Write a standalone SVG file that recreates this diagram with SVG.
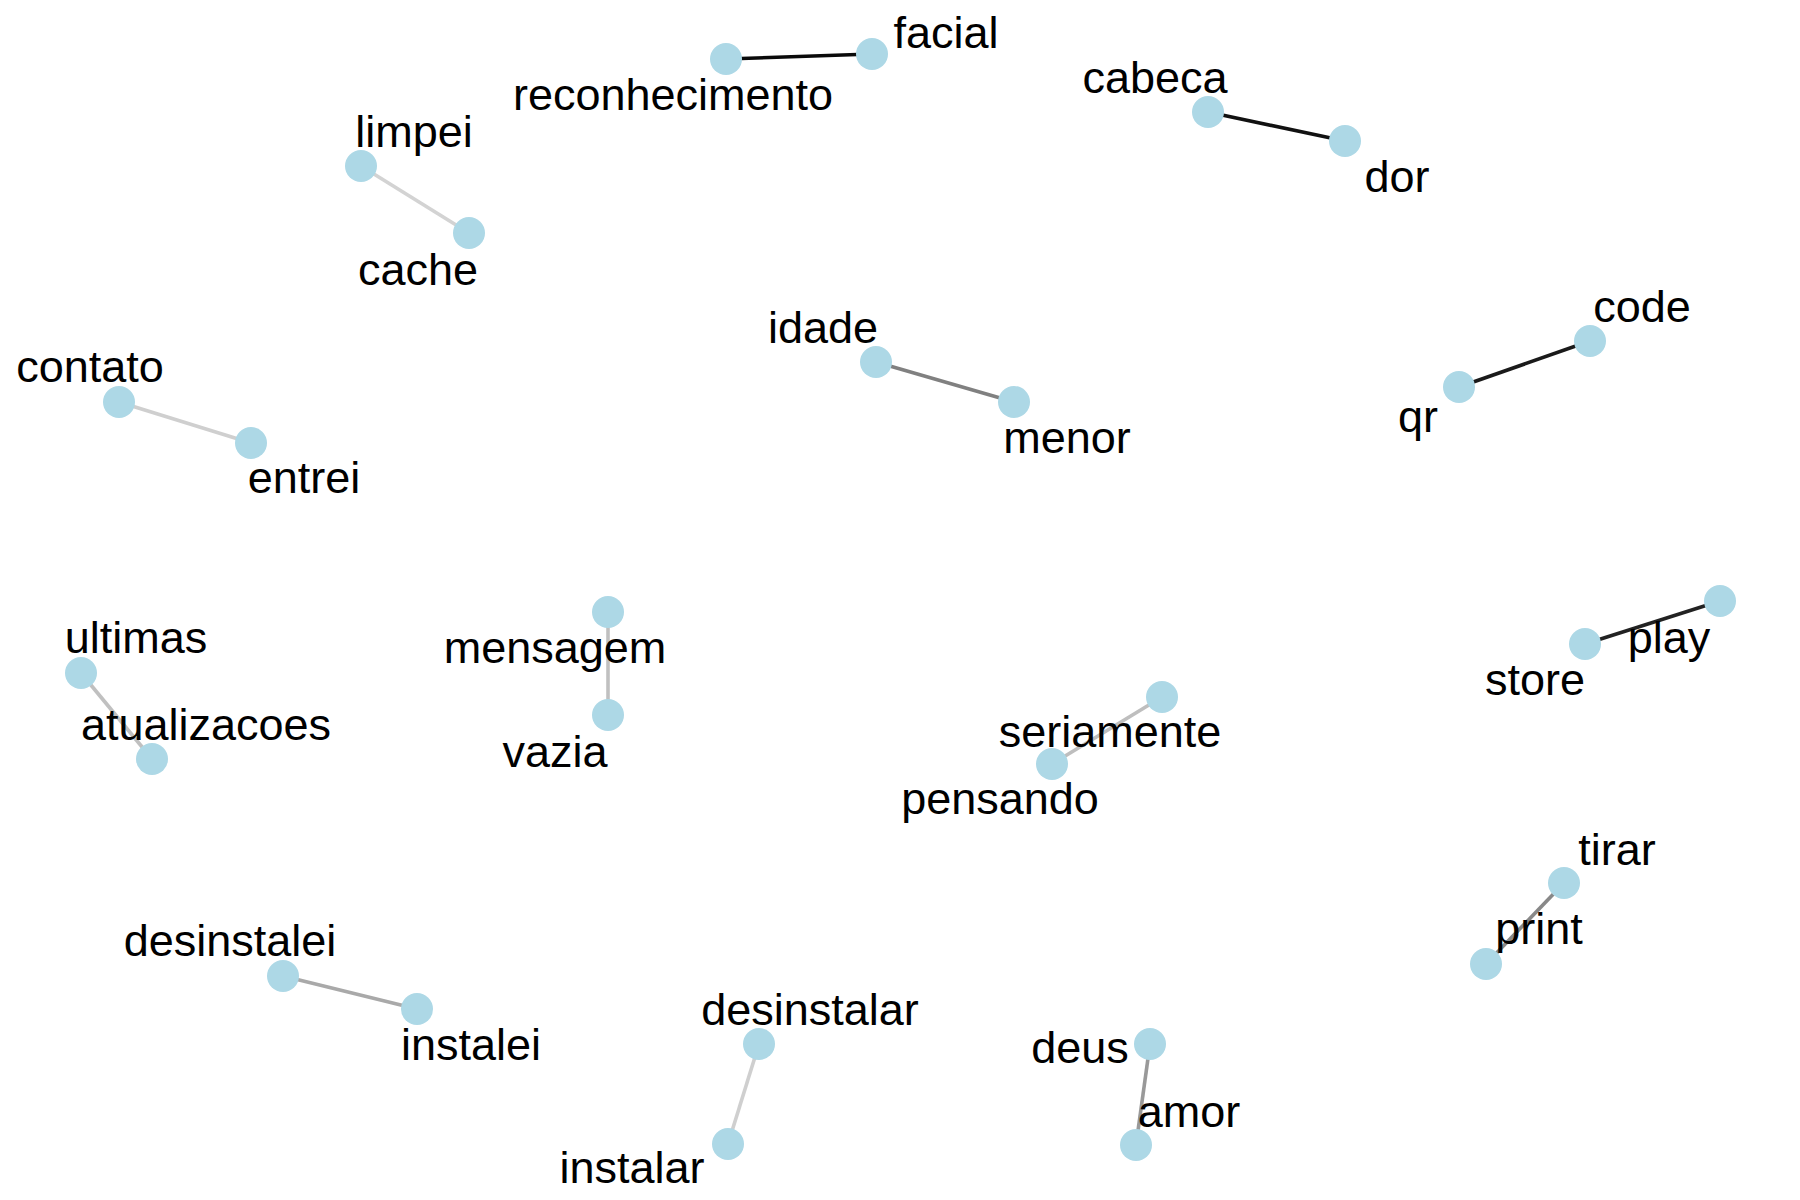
<svg xmlns="http://www.w3.org/2000/svg" width="1800" height="1200" viewBox="0 0 1800 1200">
<style>
.n{fill:#add8e6}
.t{font-family:"Liberation Sans",Arial,sans-serif;font-size:45px;fill:#000;text-anchor:middle}
.e{stroke-width:3.6;fill:none}
</style>
<rect width="1800" height="1200" fill="#ffffff"/>
<g id="connectors">
<line class="e" x1="361" y1="166" x2="469" y2="233" stroke="#d3d3d3"/>
<line class="e" x1="726" y1="59" x2="872" y2="54" stroke="#0a0a0a" stroke-width="4.4"/>
<line class="e" x1="1208" y1="112" x2="1345" y2="141" stroke="#111111" stroke-width="4"/>
<line class="e" x1="1590" y1="341" x2="1459" y2="387" stroke="#1a1a1a" stroke-width="4"/>
<line class="e" x1="876" y1="362" x2="1014" y2="402" stroke="#808080"/>
<line class="e" x1="119" y1="402" x2="251" y2="443" stroke="#cfcfcf"/>
<line class="e" x1="81" y1="673" x2="152" y2="759" stroke="#c0c0c0"/>
<line class="e" x1="608" y1="612" x2="608" y2="715" stroke="#c0c0c0"/>
<line class="e" x1="1162" y1="697" x2="1052" y2="764" stroke="#bebebe"/>
<line class="e" x1="1720" y1="601" x2="1585" y2="644" stroke="#222222" stroke-width="4"/>
<line class="e" x1="1564" y1="883" x2="1486" y2="964" stroke="#888888"/>
<line class="e" x1="283" y1="976" x2="417" y2="1009" stroke="#a9a9a9"/>
<line class="e" x1="759" y1="1044" x2="728" y2="1144" stroke="#cfcfcf"/>
<line class="e" x1="1150" y1="1044" x2="1136" y2="1145" stroke="#999999"/>
</g>
<g id="node-limpei"><circle class="n" cx="361" cy="166" r="16"/><text class="t" x="414" y="147">limpei</text></g>
<g id="node-cache"><circle class="n" cx="469" cy="233" r="16"/><text class="t" x="418" y="285">cache</text></g>
<g id="node-reconhecimento"><circle class="n" cx="726" cy="59" r="16"/><text class="t" x="673" y="110">reconhecimento</text></g>
<g id="node-facial"><circle class="n" cx="872" cy="54" r="16"/><text class="t" x="946" y="48">facial</text></g>
<g id="node-cabeca"><circle class="n" cx="1208" cy="112" r="16"/><text class="t" x="1155" y="93">cabeca</text></g>
<g id="node-dor"><circle class="n" cx="1345" cy="141" r="16"/><text class="t" x="1397" y="192">dor</text></g>
<g id="node-code"><circle class="n" cx="1590" cy="341" r="16"/><text class="t" x="1642" y="322">code</text></g>
<g id="node-qr"><circle class="n" cx="1459" cy="387" r="16"/><text class="t" x="1418" y="432">qr</text></g>
<g id="node-idade"><circle class="n" cx="876" cy="362" r="16"/><text class="t" x="823" y="343">idade</text></g>
<g id="node-menor"><circle class="n" cx="1014" cy="402" r="16"/><text class="t" x="1067" y="453">menor</text></g>
<g id="node-contato"><circle class="n" cx="119" cy="402" r="16"/><text class="t" x="90" y="382">contato</text></g>
<g id="node-entrei"><circle class="n" cx="251" cy="443" r="16"/><text class="t" x="304" y="493">entrei</text></g>
<g id="node-ultimas"><circle class="n" cx="81" cy="673" r="16"/><text class="t" x="136" y="653">ultimas</text></g>
<g id="node-atualizacoes"><circle class="n" cx="152" cy="759" r="16"/><text class="t" x="206" y="740">atualizacoes</text></g>
<g id="node-mensagem"><circle class="n" cx="608" cy="612" r="16"/><text class="t" x="555" y="663">mensagem</text></g>
<g id="node-vazia"><circle class="n" cx="608" cy="715" r="16"/><text class="t" x="555" y="767">vazia</text></g>
<g id="node-seriamente"><circle class="n" cx="1162" cy="697" r="16"/><text class="t" x="1110" y="747">seriamente</text></g>
<g id="node-pensando"><circle class="n" cx="1052" cy="764" r="16"/><text class="t" x="1000" y="814">pensando</text></g>
<g id="node-play"><circle class="n" cx="1720" cy="601" r="16"/><text class="t" x="1669" y="653">play</text></g>
<g id="node-store"><circle class="n" cx="1585" cy="644" r="16"/><text class="t" x="1535" y="695">store</text></g>
<g id="node-tirar"><circle class="n" cx="1564" cy="883" r="16"/><text class="t" x="1617" y="865">tirar</text></g>
<g id="node-print"><circle class="n" cx="1486" cy="964" r="16"/><text class="t" x="1539" y="944">print</text></g>
<g id="node-desinstalei"><circle class="n" cx="283" cy="976" r="16"/><text class="t" x="230" y="956">desinstalei</text></g>
<g id="node-instalei"><circle class="n" cx="417" cy="1009" r="16"/><text class="t" x="471" y="1060">instalei</text></g>
<g id="node-desinstalar"><circle class="n" cx="759" cy="1044" r="16"/><text class="t" x="810" y="1025">desinstalar</text></g>
<g id="node-instalar"><circle class="n" cx="728" cy="1144" r="16"/><text class="t" x="632" y="1183">instalar</text></g>
<g id="node-deus"><circle class="n" cx="1150" cy="1044" r="16"/><text class="t" x="1080" y="1063">deus</text></g>
<g id="node-amor"><circle class="n" cx="1136" cy="1145" r="16"/><text class="t" x="1189" y="1127">amor</text></g>
</svg>
